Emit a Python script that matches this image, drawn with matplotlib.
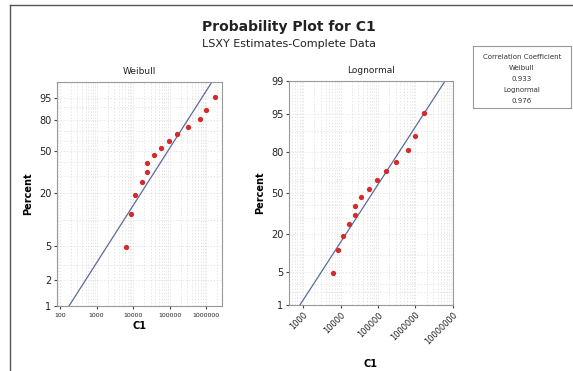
import math
import numpy as np
import matplotlib
matplotlib.use("Agg")
import matplotlib.pyplot as plt
from matplotlib.lines import Line2D
from matplotlib.ticker import FixedLocator, FuncFormatter, NullFormatter

# data
c1 = [6300, 8600, 11500, 17000, 24000, 24000, 36000, 56000,
      93000, 160000, 305000, 650000, 1000000, 1700000]
percent = [4.9, 11.8, 18.8, 25.7, 32.6, 39.6, 46.5, 53.5,
           60.4, 67.4, 74.3, 81.3, 88.2, 95.1]

# LSXY fitted parameters
weib_shape = 0.682
weib_scale = 150000
logn_loc10 = 4.854
logn_scale10 = 0.835

corr_weibull = "0.933"
corr_lognormal = "0.976"

weib_ticks = [1, 2, 5, 20, 50, 80, 95]
logn_ticks = [1, 5, 20, 50, 80, 95, 99]
minor_pct = [3, 10, 30, 40, 60, 70, 90, 99]
weib_xticks = [100, 1000, 10000, 100000, 1000000]
logn_xticks = [1000, 10000, 100000, 1000000, 10000000]


def weib_fwd(p):
    p = np.clip(np.asarray(p, float) / 100.0, 1e-6, 1 - 1e-9)
    return np.log(-np.log(1 - p))


def weib_inv(w):
    return 100.0 * (1 - np.exp(-np.exp(np.asarray(w, float))))


_erf = np.vectorize(math.erf)


def norm_cdf(z):
    return 0.5 * (1 + _erf(np.asarray(z, float) / math.sqrt(2)))


def norm_ppf(q):
    # Acklam's rational approximation
    q = np.clip(np.asarray(q, float), 1e-9, 1 - 1e-9)
    a = [-3.969683028665376e+01, 2.209460984245205e+02, -2.759285104469687e+02,
         1.383577518672690e+02, -3.066479806614716e+01, 2.506628277459239e+00]
    b = [-5.447609879822406e+01, 1.615858368580409e+02, -1.556989798598866e+02,
         6.680131188771972e+01, -1.328068155288572e+01]
    c = [-7.784894002430293e-03, -3.223964580411365e-01, -2.400758277161838e+00,
         -2.549732539343734e+00, 4.374664141464968e+00, 2.938163982698783e+00]
    d = [7.784695709041462e-03, 3.224671290700398e-01, 2.445134137142996e+00,
         3.754408661907416e+00]
    out = np.empty_like(q)
    lo = q < 0.02425
    hi = q > 1 - 0.02425
    mid = ~(lo | hi)
    t = np.sqrt(-2 * np.log(q[lo]))
    out[lo] = (((((c[0]*t+c[1])*t+c[2])*t+c[3])*t+c[4])*t+c[5]) / \
        ((((d[0]*t+d[1])*t+d[2])*t+d[3])*t+1)
    t = np.sqrt(-2 * np.log(1 - q[hi]))
    out[hi] = -(((((c[0]*t+c[1])*t+c[2])*t+c[3])*t+c[4])*t+c[5]) / \
        ((((d[0]*t+d[1])*t+d[2])*t+d[3])*t+1)
    r = q[mid] - 0.5
    s = r * r
    out[mid] = (((((a[0]*s+a[1])*s+a[2])*s+a[3])*s+a[4])*s+a[5]) * r / \
        (((((b[0]*s+b[1])*s+b[2])*s+b[3])*s+b[4])*s+1)
    return out


def logn_fwd(p):
    return norm_ppf(np.asarray(p, float) / 100.0)


def logn_inv(z):
    return 100.0 * norm_cdf(z)


pt_color = '#d42a2a'
line_color = '#5b6b9e'
grid_kw = dict(color='#dcdcdc', linestyle=(0, (2, 2.5)), linewidth=0.5)

fig = plt.figure(figsize=(5.73, 3.71), dpi=100)

# outer frame (left and top)
fig.add_artist(Line2D([10/573, 10/573], [0, 1 - 5/371], color='#555555', lw=1))
fig.add_artist(Line2D([10/573, 1], [1 - 5/371, 1 - 5/371], color='#555555', lw=1))

fig.text(0.505, 1 - 27/371, "Probability Plot for C1", ha='center', va='center',
         fontsize=10, fontweight='bold', color='#222222')
fig.text(0.505, 1 - 44/371, "LSXY Estimates-Complete Data", ha='center',
         va='center', fontsize=8, color='#222222')

ax1 = fig.add_axes([57/573, 1 - 306/371, 165/573, 224/371])
ax2 = fig.add_axes([289/573, 1 - 305/371, 164/573, 224/371])

# Weibull panel
ax1.set_xscale('log')
ax1.set_yscale('function', functions=(weib_fwd, weib_inv))
xs = np.logspace(1.5, 7.5, 400)
wp = 100 * (1 - np.exp(-(xs / weib_scale) ** weib_shape))
ax1.plot(xs, wp, color=line_color, lw=0.9, zorder=2)
ax1.plot(c1, percent, 'o', color=pt_color, ms=3.8, mec='none', zorder=3)
ax1.set_xlim(83, 2.67e6)
ax1.set_ylim(1, 99)
ax1.yaxis.set_major_locator(FixedLocator(weib_ticks))
ax1.yaxis.set_minor_locator(FixedLocator(minor_pct))
ax1.xaxis.set_major_locator(FixedLocator(weib_xticks))
ax1.set_title("Weibull", fontsize=6.5, pad=6, color='#222222')
ax1.set_ylabel("Percent", fontsize=7, fontweight='bold', labelpad=4)
ax1.set_xlabel("C1", fontsize=7, fontweight='bold', labelpad=2)
ax1.tick_params(axis='x', labelsize=4.5, length=2, pad=3)

# Lognormal panel
ax2.set_xscale('log')
ax2.set_yscale('function', functions=(logn_fwd, logn_inv))
lp = 100 * norm_cdf((np.log10(xs) - logn_loc10) / logn_scale10)
ax2.plot(xs, lp, color=line_color, lw=0.9, zorder=2)
ax2.plot(c1, percent, 'o', color=pt_color, ms=3.8, mec='none', zorder=3)
ax2.set_xlim(416, 1.02e7)
ax2.set_ylim(1, 99)
ax2.yaxis.set_major_locator(FixedLocator(logn_ticks))
ax2.yaxis.set_minor_locator(FixedLocator([2, 3, 10, 30, 40, 60, 70, 90]))
ax2.xaxis.set_major_locator(FixedLocator(logn_xticks))
ax2.set_title("Lognormal", fontsize=6.5, pad=6, color='#222222')
ax2.set_ylabel("Percent", fontsize=7, fontweight='bold', labelpad=4)
ax2.set_xlabel("C1", fontsize=7, fontweight='bold', labelpad=9)
ax2.tick_params(axis='x', labelsize=6, length=2, pad=2, labelrotation=45)
for lab in ax2.get_xticklabels():
    lab.set_ha('right')
    lab.set_rotation_mode('anchor')

for ax in (ax1, ax2):
    ax.xaxis.set_major_formatter(FuncFormatter(lambda v, pos: "%d" % round(v)))
    ax.xaxis.set_minor_formatter(NullFormatter())
    ax.yaxis.set_major_formatter(FuncFormatter(lambda v, pos: "%d" % round(v)))
    ax.yaxis.set_minor_formatter(NullFormatter())
    ax.tick_params(axis='y', labelsize=7, length=2, pad=2, which='major')
    ax.tick_params(which='minor', length=0)
    ax.tick_params(colors='#444444', labelcolor='#222222')
    ax.grid(True, which='both', **grid_kw)
    for sp in ax.spines.values():
        sp.set_color('#999999')
        sp.set_linewidth(0.8)

# correlation coefficient box
bx = fig.add_axes([473/573, 1 - 108/371, 98/573, 62/371])
bx.set_xticks([])
bx.set_yticks([])
for sp in bx.spines.values():
    sp.set_color('#999999')
    sp.set_linewidth(0.8)
box_lines = ["Correlation Coefficient", "Weibull", corr_weibull,
             "Lognormal", corr_lognormal]
for i, s in enumerate(box_lines):
    bx.text(0.5, 0.83 - i * 0.18, s, ha='center', va='center',
            fontsize=5, color='#333333', transform=bx.transAxes)

fig.savefig("out.png", dpi=100)
plt.close(fig)
